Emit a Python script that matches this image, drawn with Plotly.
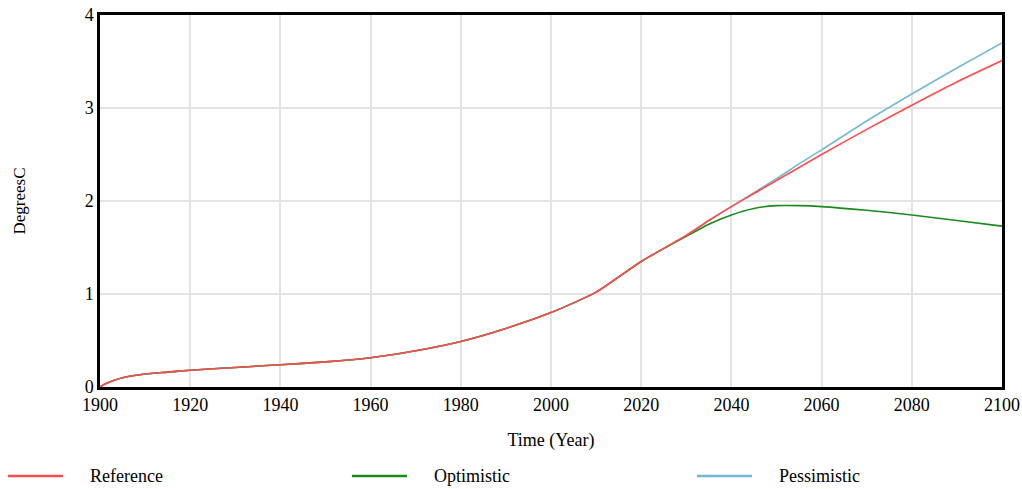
import plotly.graph_objects as go

years = [1900, 1901, 1903, 1905, 1910, 1915, 1920, 1930, 1940, 1950, 1960, 1970, 1980, 1990,
         2000, 2010, 2020, 2030, 2035, 2040, 2045, 2050, 2055, 2060, 2070, 2080, 2090, 2100]
reference = [0.0, 0.03, 0.07, 0.1, 0.14, 0.16, 0.18, 0.21, 0.24, 0.27, 0.315, 0.39, 0.49, 0.63,
             0.80, 1.02, 1.35, 1.63, 1.79, 1.94, 2.08, 2.22, 2.36, 2.50, 2.77, 3.03, 3.28, 3.51]
optimistic = [0.0, 0.03, 0.07, 0.1, 0.14, 0.16, 0.18, 0.21, 0.24, 0.27, 0.315, 0.39, 0.49, 0.63,
              0.80, 1.02, 1.35, 1.62, 1.75, 1.85, 1.92, 1.95, 1.95, 1.94, 1.90, 1.85, 1.79, 1.73]
pessimistic = [0.0, 0.03, 0.07, 0.1, 0.14, 0.16, 0.18, 0.21, 0.24, 0.27, 0.315, 0.39, 0.49, 0.63,
               0.80, 1.02, 1.35, 1.63, 1.79, 1.94, 2.09, 2.24, 2.40, 2.55, 2.86, 3.15, 3.43, 3.70]

x_ticks = [1900, 1920, 1940, 1960, 1980, 2000, 2020, 2040, 2060, 2080, 2100]
y_ticks = [0, 1, 2, 3, 4]

series_names = ["Reference", "Optimistic", "Pessimistic"]
series_colors = ["#ff4d4d", "#1a8a1a", "#74b9d3"]
series_values = [reference, optimistic, pessimistic]

font = "Liberation Serif, Times New Roman, serif"

W, H = 1022, 489
ML, MR, MT, MB = 100, 20, 15, 102
PW, PH = W - ML - MR, H - MT - MB

fig = go.Figure()
# draw pessimistic first, reference last (reference on top)
for name, color, vals in reversed(list(zip(series_names, series_colors, series_values))):
    fig.add_trace(go.Scatter(x=years, y=vals, name=name, mode="lines",
                             line=dict(color=color, width=1.6, shape="spline", smoothing=0.6),
                             showlegend=False))

# manual legend laid out like the original (long line samples, wide spacing)
def px_x(p):
    return (p - ML) / PW

def px_y(p):
    return (H - MB - p) / PH

legend_y = 476
line_starts = [8, 352, 697]
for name, color, x0 in zip(series_names, series_colors, line_starts):
    fig.add_shape(type="line", xref="paper", yref="paper",
                  x0=px_x(x0), x1=px_x(x0 + 55), y0=px_y(legend_y), y1=px_y(legend_y),
                  line=dict(color=color, width=2.5))
    fig.add_annotation(text=name, xref="paper", yref="paper", x=px_x(x0 + 80), y=px_y(legend_y),
                       xanchor="left", yanchor="middle", showarrow=False,
                       font=dict(family=font, size=18, color="black"))

fig.update_layout(
    width=W, height=H,
    margin=dict(l=ML, r=MR, t=MT, b=MB, autoexpand=False),
    paper_bgcolor="white", plot_bgcolor="white",
    font=dict(family=font, size=18, color="black"),
    showlegend=False,
)
fig.update_xaxes(range=[1900, 2100], tickvals=x_ticks, ticks="", showgrid=True,
                 gridcolor="#e3e3e3", gridwidth=1.5, showline=True, linecolor="black",
                 linewidth=2.5, mirror=True, zeroline=False,
                 title=dict(text="Time (Year)", standoff=20, font=dict(family=font, size=18)),
                 tickfont=dict(family=font, size=18))
fig.update_yaxes(range=[0, 4], tickvals=y_ticks, ticks="", showgrid=True,
                 gridcolor="#e3e3e3", gridwidth=1.5, showline=True, linecolor="black",
                 linewidth=2.5, mirror=True, zeroline=False,
                 title=dict(text="DegreesC", standoff=55, font=dict(family=font, size=17)),
                 tickfont=dict(family=font, size=18))

fig.write_html("out.html")
